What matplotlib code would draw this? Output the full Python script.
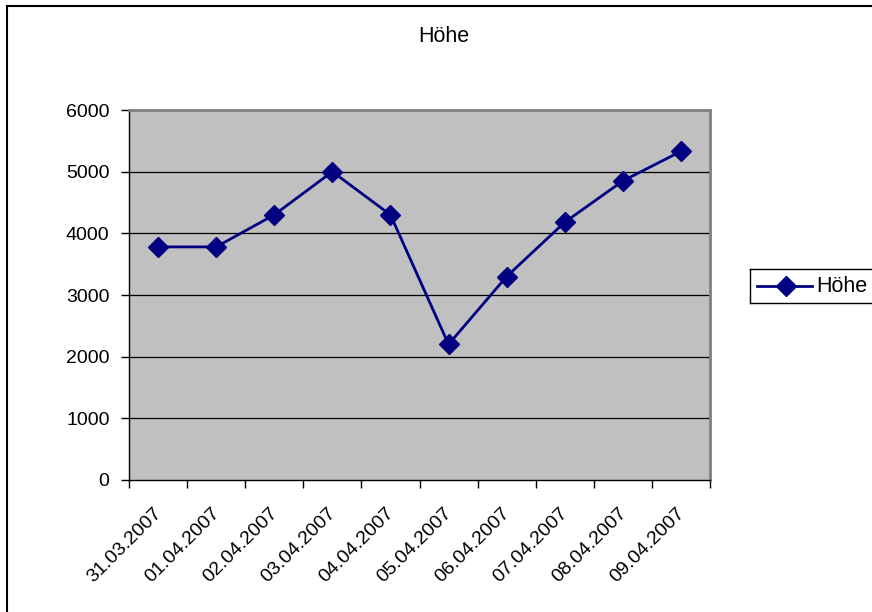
import matplotlib.pyplot as plt
from matplotlib.patches import Rectangle
from matplotlib.transforms import ScaledTranslation

plt.rcParams['font.family'] = ['Liberation Sans', 'DejaVu Sans']

# Daten
dates = ['31.03.2007', '01.04.2007', '02.04.2007', '03.04.2007', '04.04.2007',
         '05.04.2007', '06.04.2007', '07.04.2007', '08.04.2007', '09.04.2007']
hoehe = [3780, 3780, 4300, 5000, 4300, 2200, 3300, 4180, 4850, 5330]
yticks = [0, 1000, 2000, 3000, 4000, 5000, 6000]

W, H = 872, 612
fig = plt.figure(figsize=(W / 100, H / 100), dpi=100)

# Rahmen um das Diagramm (rechts und unten abgeschnitten)
fig.patches.append(Rectangle((7 / W, -0.1), 1.1, 1.1 - 6 / H, transform=fig.transFigure,
                             fill=False, edgecolor='black', linewidth=1.5))

ax = fig.add_axes([129 / W, 1 - 480 / H, 581 / W, 370 / H])
ax.set_facecolor('#c0c0c0')

x = list(range(len(dates)))
ax.plot(x, hoehe, color='#000080', linewidth=2, marker='D', markersize=10, label='Höhe',
        zorder=3)

ax.set_xlim(-0.5, len(dates) - 0.5)
ax.set_ylim(0, 6000)
ax.set_yticks(yticks)
ax.set_yticklabels([str(v) for v in yticks], fontsize=14)
for v in yticks[1:-1]:
    ax.axhline(v, color='black', linewidth=0.9, zorder=1)

# Ticks zwischen den Kategorien, Labels in der Mitte
ax.set_xticks([i - 0.5 for i in range(len(dates) + 1)])
ax.set_xticklabels([])
ax.set_xticks(x, minor=True)
ax.set_xticklabels(dates, minor=True, rotation=45, ha='right', va='top',
                   rotation_mode='anchor', fontsize=14)
ax.tick_params(axis='x', which='minor', length=0, pad=18)
ax.tick_params(axis='x', which='major', length=6, direction='out', width=1)
ax.tick_params(axis='y', length=6, direction='out', width=1, pad=8)

# Labels etwas nach links schieben
shift = ScaledTranslation(-5 / 100, 0, fig.dpi_scale_trans)
for lbl in ax.get_xticklabels(minor=True):
    lbl.set_transform(lbl.get_transform() + shift)

ax.spines['top'].set_color('#808080')
ax.spines['right'].set_color('#808080')
ax.spines['top'].set_linewidth(2)
ax.spines['right'].set_linewidth(2)
ax.spines['left'].set_linewidth(1)
ax.spines['bottom'].set_linewidth(1)

fig.text(444 / W, 1 - 36 / H, 'Höhe', ha='center', va='center', fontsize=15.5)

# Legende (rechts abgeschnitten)
leg_ax = fig.add_axes([750 / W, 1 - 303 / H, 140 / W, 34 / H])
leg_ax.set_xlim(0, 140)
leg_ax.set_ylim(0, 34)
leg_ax.set_xticks([])
leg_ax.set_yticks([])
for s in leg_ax.spines.values():
    s.set_linewidth(1)
leg_ax.plot([7, 62], [17, 17], color='#000080', linewidth=2)
leg_ax.plot([36], [17], marker='D', color='#000080', markersize=10)
leg_ax.text(66, 16.5, 'Höhe', ha='left', va='center', fontsize=15.5)

fig.savefig('out.png', dpi=100)
